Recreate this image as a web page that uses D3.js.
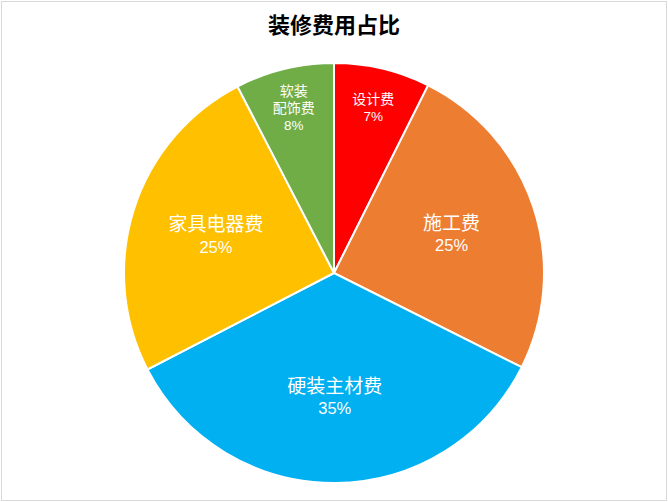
<!DOCTYPE html>
<meta charset="utf-8">
<style>
body { margin: 0; background: #fff; }
.frame { fill: #fff; stroke: #d9d9d9; stroke-width: 1; }
.title { font: bold 22px "Noto Sans CJK SC", sans-serif; fill: #000; text-anchor: middle; }
.lbl { fill: #fff; text-anchor: middle; }
.cjk { font-family: "Noto Sans CJK SC", sans-serif; }
.num { font-family: "Liberation Sans", Arial, sans-serif; }
</style>
<svg width="668" height="502"></svg>
<script src="https://d3js.org/d3.v7.min.js"></script>
<script>
var names = ["设计费", "施工费", "硬装主材费", "家具电器费", "软装配饰费"];
var shares = [7.4, 25, 35, 25, 7.6];
var colors = ["#ff0000", "#ed7d31", "#00b0f0", "#ffc000", "#70ad47"];
// label text as wrapped in the chart
var labelLines = [["设计费"], ["施工费"], ["硬装主材费"], ["家具电器费"], ["软装", "配饰费"]];

var svg = d3.select("svg"),
    width = +svg.attr("width"),
    height = +svg.attr("height");

svg.append("rect").attr("class", "frame")
   .attr("x", 1.5).attr("y", 1.5)
   .attr("width", width - 3).attr("height", height - 3);

svg.append("text").attr("class", "title")
   .attr("x", width / 2).attr("y", 33)
   .text("装修费用占比");

var cx = 334, cy = 273, r = 210;
var g = svg.append("g").attr("transform", "translate(" + cx + "," + cy + ")");

var data = names.map(function(n, i) { return {name: n, value: shares[i], i: i}; });

var pie = d3.pie().sort(null).value(function(d) { return d.value; });
var arc = d3.arc().innerRadius(0).outerRadius(r);
var arcs = pie(data);

g.selectAll("path")
  .data(arcs)
  .enter().append("path")
    .attr("d", arc)
    .attr("fill", function(d) { return colors[d.data.i]; })
    .attr("stroke", "#fff")
    .attr("stroke-width", 2);

var total = d3.sum(shares);
arcs.forEach(function(d) {
  var small = d.data.value < 10;
  var lr = small ? r * 0.81 : r * 0.59;
  var a = (d.startAngle + d.endAngle) / 2;
  var x = Math.sin(a) * lr, y = -Math.cos(a) * lr;
  var fs = small ? 14 : 19;     // CJK size
  var ns = small ? 13.5 : 16.5; // number size
  var lh = small ? 17 : 22.5;
  var lines = labelLines[d.data.i];
  var n = lines.length + 1;
  var t = g.append("g").attr("class", "lbl");
  lines.forEach(function(s, k) {
    var c = y + (k - (n - 1) / 2) * lh;
    t.append("text").attr("class", "cjk")
      .attr("font-size", fs + "px")
      .attr("x", x).attr("y", c + fs * 0.38)
      .text(s);
  });
  var c = y + (n - 1) / 2 * lh;
  t.append("text").attr("class", "num")
    .attr("font-size", ns + "px")
    .attr("x", x).attr("y", c + ns * 0.36)
    .text(Math.round(d.data.value / total * 100) + "%");
});
</script>
